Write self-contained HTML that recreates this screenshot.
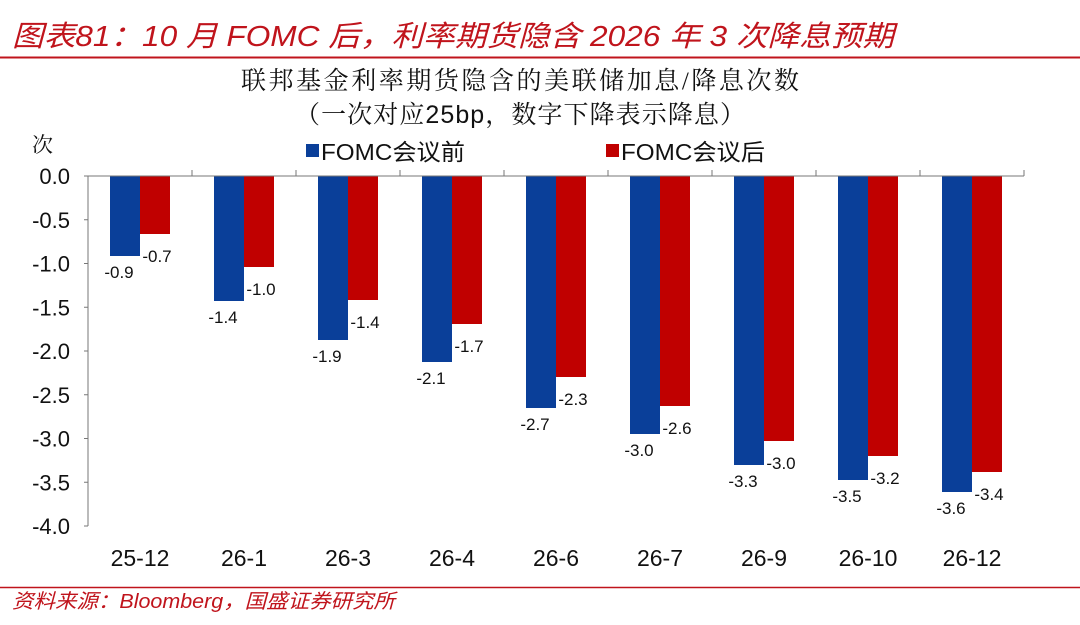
<!DOCTYPE html>
<html><head><meta charset="utf-8"><style>
body{margin:0;background:#fff;}
svg{display:block;}
</style></head><body>
<svg width="1080" height="625" xmlns="http://www.w3.org/2000/svg" font-family="'Liberation Sans','Noto Sans CJK SC',sans-serif">
<text x="12" y="46" font-size="29" fill="#c0141c" font-style="italic" textLength="882" lengthAdjust="spacingAndGlyphs">图表81：10 月 FOMC 后，利率期货隐含 2026 年 3 次降息预期</text>
<line x1="0" y1="57.5" x2="1080" y2="57.5" stroke="#c0141c" stroke-width="2"/>
<text x="520" y="89" font-size="25" text-anchor="middle" fill="#111" font-family="'Liberation Serif','Noto Serif CJK SC',serif" textLength="558" lengthAdjust="spacing">联邦基金利率期货隐含的美联储加息/降息次数</text>
<text x="520" y="123" font-size="25" text-anchor="middle" fill="#111" font-family="'Liberation Serif','Noto Serif CJK SC',serif" textLength="450" lengthAdjust="spacing">（一次对应<tspan font-family="'Liberation Sans',sans-serif">25bp</tspan>，数字下降表示降息）</text>
<text x="32" y="152" font-size="21" fill="#111" font-family="'Liberation Serif','Noto Serif CJK SC',serif">次</text>
<rect x="306" y="144" width="13" height="13" fill="#0a3f99"/>
<text x="321" y="160" font-size="23" fill="#111" textLength="144" lengthAdjust="spacingAndGlyphs">FOMC会议前</text>
<rect x="606" y="144" width="13" height="13" fill="#c00000"/>
<text x="621" y="160" font-size="23" fill="#111" textLength="144" lengthAdjust="spacingAndGlyphs">FOMC会议后</text>
<script>
var svg=document.querySelector('svg'),NS="http://www.w3.org/2000/svg";
function el(t,a,txt){var e=document.createElementNS(NS,t);for(var k in a)e.setAttribute(k,a[k]);if(txt!=null)e.textContent=txt;svg.appendChild(e);return e;}
var y0=176,s=87.5;
var yl=["0.0","-0.5","-1.0","-1.5","-2.0","-2.5","-3.0","-3.5","-4.0"];
for(var i=0;i<9;i++){var y=y0+i*s/2;el('text',{x:70,y:y+8,'font-size':22,fill:'#111','text-anchor':'end'},yl[i]);el('line',{x1:84,x2:88,y1:y,y2:y,stroke:'#777'});}
var cats=["25-12","26-1","26-3","26-4","26-6","26-7","26-9","26-10","26-12"];
var bb=[256,301,340,362,408,434,465,480,492],rb=[234,267,300,324,377,406,441,456,472];
var bl=["-0.9","-1.4","-1.9","-2.1","-2.7","-3.0","-3.3","-3.5","-3.6"],rl=["-0.7","-1.0","-1.4","-1.7","-2.3","-2.6","-3.0","-3.2","-3.4"];
var w=104,x0=88;
for(var i=0;i<9;i++){var cx=x0+i*w;
el('rect',{x:cx+22,y:y0,width:30,height:bb[i]-y0,fill:'#0a3f99'});
el('rect',{x:cx+52,y:y0,width:30,height:rb[i]-y0,fill:'#c00000'});
el('text',{x:cx+31,y:bb[i]+22,'font-size':17,fill:'#111','text-anchor':'middle'},bl[i]);
el('text',{x:cx+69,y:rb[i]+28,'font-size':17,fill:'#111','text-anchor':'middle'},rl[i]);
el('text',{x:cx+w/2,y:566,'font-size':23,fill:'#111','text-anchor':'middle'},cats[i]);
el('line',{x1:cx+w,x2:cx+w,y1:y0-6,y2:y0,stroke:'#777'});}
el('line',{x1:88,x2:88+9*w,y1:y0,y2:y0,stroke:'#777'});
el('line',{x1:88,x2:88,y1:y0,y2:y0+8*s/2,stroke:'#777'});
</script>
<line x1="0" y1="587.5" x2="1080" y2="587.5" stroke="#c0141c" stroke-width="1.5"/>
<text x="12" y="608" font-size="20" fill="#c0141c" font-style="italic" textLength="383" lengthAdjust="spacingAndGlyphs">资料来源：Bloomberg，国盛证券研究所</text>
</svg>
</body></html>
